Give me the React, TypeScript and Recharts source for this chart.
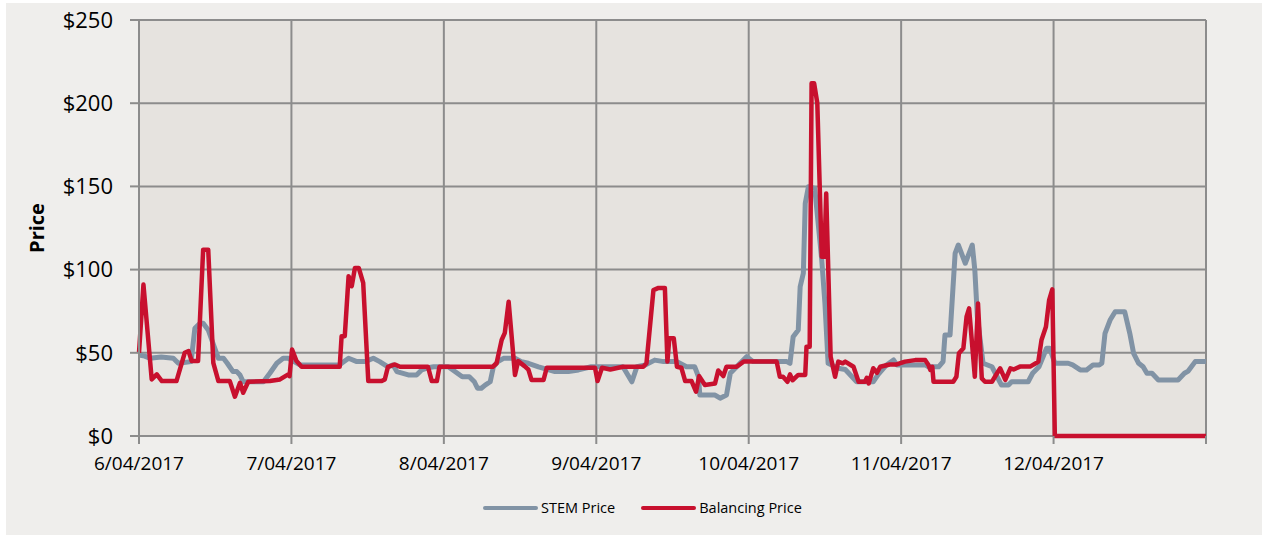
import { LineChart, Line, XAxis, YAxis, CartesianGrid } from 'recharts';

// hours since 00:00 on 6/04/2017
const dayLabels = ['6/04/2017', '7/04/2017', '8/04/2017', '9/04/2017', '10/04/2017', '11/04/2017', '12/04/2017'];
const dayTicks = [0, 24, 48, 72, 96, 120, 144, 168];
const priceTicks = [0, 50, 100, 150, 200, 250];

const stemHours = [
  0, 0.9, 1.7, 3.5, 5.4, 6.2, 8.2, 8.8, 9.6, 10.1, 10.9, 12.5, 13.3, 13.9, 14.8, 15.4, 15.9, 16.4, 19.6, 20.6,
  21.7, 22.7, 23.5, 25.4, 31.6, 31.9, 33, 34.3, 35.6, 36.9, 37.9, 39.2, 40, 40.6, 42.4, 43.7, 44.5, 45.5, 46.4, 48.7,
  50.9, 52, 52.8, 53.3, 53.9, 54.5, 55.3, 55.8, 56.5, 57.4, 59.2, 60.2, 61.3, 62.9, 65.5, 67.6, 69.2, 71.2, 76.2, 77.6,
  78.4, 79.7, 81.2, 82.6, 84.7, 86.2, 87.5, 88.1, 88.3, 90.7, 91.5, 92.5, 93.1, 94.1, 95.7, 96.7, 102, 102.5, 103, 103.8,
  104.1, 104.6, 104.9, 105.4, 106.4, 107.5, 108, 108.5, 110.1, 111.2, 113, 115.6, 116.4, 117.7, 118.8, 119.3, 123.8, 124.3, 125.9, 126.6,
  126.9, 127.7, 128.5, 129, 130.1, 131.2, 131.6, 132, 132.9, 134.3, 135.8, 136.9, 137.4, 140, 140.7, 141.7, 142.9, 143.4, 144.2, 146.3,
  147, 148.2, 149.2, 150.2, 151.2, 151.6, 152.1, 152.9, 153.7, 155.2, 156, 156.6, 157.4, 158.1, 158.7, 159.5, 160.5, 163.6, 164.6, 165.2,
  166.3, 168,
];
const stemPrice = [
  48.7, 48, 46.7, 47.5, 46.7, 43.7, 44.7, 64.7, 67.7, 67.7, 63.7, 46.7, 46.7, 43.7, 38.7, 38.7, 36.7, 32.6, 32.6, 37.7,
  43.7, 46.7, 46.7, 42.7, 42.7, 43.7, 46.7, 44.7, 44.7, 46.7, 44.7, 41.6, 42.7, 38.7, 36.7, 36.7, 39.7, 41, 41.6, 41.6,
  35.6, 35.6, 32.6, 28.7, 28.7, 30.6, 32.6, 41.6, 44.7, 46.7, 46.7, 44.7, 43.7, 41.6, 38.7, 38.7, 39.7, 41.6, 41.6, 32.6,
  41.6, 42.7, 45.6, 44.7, 44.7, 41.6, 41.6, 35.6, 24.6, 24.6, 22.7, 24.6, 37.7, 41.6, 47.7, 44.7, 44.7, 43.7, 59.7, 63.7,
  89.7, 97.8, 139.8, 149.8, 148.8, 105.8, 79.7, 43.7, 40.7, 40, 32.6, 32.6, 37, 42.7, 45.7, 42.7, 42.7, 41.6, 41.6, 44.7,
  60.7, 60.7, 109.8, 114.8, 103.8, 114.8, 99.8, 71.7, 43.7, 41.6, 30.6, 30.6, 32.6, 32.6, 37.7, 41.6, 52.7, 52.7, 43.7, 43.7,
  42.7, 39.7, 39.7, 42.7, 42.7, 43.7, 61.7, 69.7, 74.7, 74.7, 61.7, 49.7, 43.7, 41.6, 37.7, 37.7, 33.7, 33.7, 37.7, 39,
  44.7, 44.7,
];

const balHours = [
  0, 0.7, 2, 2.8, 3.6, 5.9, 7.2, 7.8, 8.3, 9.3, 10.1, 10.9, 11.7, 12.5, 14.3, 15.1, 15.9, 16.4, 17.2, 20.6,
  22.2, 23.5, 23.7, 24.1, 24.8, 25.6, 31.6, 31.9, 32.4, 33, 33.5, 34, 34.6, 35.3, 36.1, 38.2, 38.7, 39.2, 40.3, 41.1,
  45.5, 46.1, 46.9, 47.3, 55.7, 56.3, 57.1, 57.6, 58.2, 59.2, 59.7, 60.7, 61.3, 61.8, 63.7, 64.2, 71.8, 72.2, 72.9, 74.2,
  76.2, 79.4, 79.9, 81, 81.8, 82.8, 83.2, 83.5, 84.2, 84.7, 85.4, 86, 87, 87.7, 88.2, 89.1, 90.7, 91.2, 92, 92.5,
  94.1, 95.2, 100.4, 100.9, 101.4, 102.1, 102.5, 102.9, 103.8, 104.9, 105.1, 105.6, 105.9, 106.3, 106.8, 107.5, 107.9, 108.2, 108.9, 109.6,
  110.1, 110.8, 111.2, 112.5, 113.3, 114.3, 114.6, 114.9, 115.6, 116.2, 116.7, 118.2, 119.3, 120.6, 122.2, 123.8, 124.3, 124.6, 124.9, 125.1,
  128.2, 128.7, 129.1, 129.8, 130.3, 130.7, 131.6, 132.1, 132.7, 133.2, 134.3, 135.1, 135.6, 136.4, 137.2, 137.7, 138.7, 140.3, 141.2, 141.6,
  142.1, 142.8, 143.3, 143.8, 144.2, 168,
];
const balPrice = [
  50, 91, 34, 37, 33, 33, 50, 51, 45, 45, 112, 112, 44, 33, 33, 23.6, 32, 26, 32.6, 33,
  34, 37, 36, 52, 45, 41.6, 41.6, 60, 60, 96, 90, 101, 101, 92, 33, 33, 34, 41.6, 43, 41.6,
  41.6, 33, 33, 41.6, 41.6, 43.7, 57.7, 62, 80.7, 36.7, 45, 42, 40, 33.7, 33.7, 41, 41, 33, 41, 40,
  41.6, 41.6, 43.7, 87.7, 89, 89, 44.7, 58.7, 58.7, 41.6, 41, 33, 33, 26.6, 36, 30.6, 31.5, 39.4, 36, 41.6,
  41.6, 44.7, 44.7, 35.6, 35.6, 32.6, 37, 33.5, 36.7, 36.7, 53.7, 53.7, 212, 212, 200, 107.7, 107.7, 145.8, 47.7, 35.6,
  44.7, 43.7, 44.7, 41.6, 32.6, 32.6, 35, 31.6, 40.7, 38, 41.6, 43, 43, 44.7, 45.6, 45.6, 42.7, 39.7, 41.6, 32.6,
  32.6, 35.6, 49.7, 52.7, 71.7, 76.7, 35.6, 79.7, 34.6, 32.6, 32.6, 37.7, 40.7, 33.7, 40.7, 40, 41.7, 41.7, 43.7, 44.7,
  57.7, 65.7, 81.7, 88.1, 0, 0,
];

const seriesNames = ['STEM Price', 'Balancing Price'];
const seriesColors = ['#8193a5', '#c8102e'];

const stemData = stemHours.map((h, i) => ({ h, price: stemPrice[i] }));
const balData = balHours.map((h, i) => ({ h, price: balPrice[i] }));

const FONT = '"Open Sans", sans-serif';
const GRID = '#8c8c8c';

function PriceLabel() {
  return (
    <text
      x={30}
      y={225}
      transform="rotate(-90 30 225)"
      textAnchor="middle"
      dominantBaseline="central"
      fontFamily={FONT}
      fontWeight="bold"
      fontSize={20}
      fill="#000"
    >
      Price
    </text>
  );
}

export default function App() {
  return (
    <div style={{ position: 'absolute', left: 6, top: 3, width: 1256, height: 532, background: '#efeeec', fontFamily: FONT }}>
      <LineChart width={1256} height={532} margin={{ top: 17, right: 56, left: 0, bottom: 59 }}>
        {/* grid draws the bottom line too, so the zero-valued red segment sits on top of it */}
        <CartesianGrid fill="#e6e3df" stroke={GRID} strokeWidth={2} />
        <XAxis
          dataKey="h"
          type="number"
          domain={[0, 168]}
          ticks={dayTicks}
          allowDuplicatedCategory={false}
          height={40}
          axisLine={false}
          tickSize={8}
          tickMargin={13}
          stroke={GRID}
          strokeWidth={2}
          tick={{ fill: '#000', fontSize: 19, fontFamily: FONT }}
          tickFormatter={(v: number) => dayLabels[v / 24] ?? ''}
          interval={0}
        />
        <YAxis
          type="number"
          domain={[0, 250]}
          ticks={priceTicks}
          width={133}
          tickSize={9}
          tickMargin={17}
          stroke={GRID}
          strokeWidth={2}
          tick={{ fill: '#000', fontSize: 22, fontFamily: FONT }}
          tickFormatter={(v: number) => `$${v}`}
          interval={0}
          label={PriceLabel}
        />
        <Line
          data={stemData}
          dataKey="price"
          name={seriesNames[0]}
          type="linear"
          stroke={seriesColors[0]}
          strokeWidth={5}
          strokeLinejoin="round"
          dot={false}
          isAnimationActive={false}
        />
        <Line
          data={balData}
          dataKey="price"
          name={seriesNames[1]}
          type="linear"
          stroke={seriesColors[1]}
          strokeWidth={4.5}
          strokeLinejoin="round"
          dot={false}
          isAnimationActive={false}
        />
      </LineChart>
      <div style={{ position: 'absolute', left: 477, top: 495, display: 'flex', alignItems: 'center', fontSize: 14.5, color: '#000' }}>
        {seriesNames.map((name, i) => (
          <div key={name} style={{ display: 'flex', alignItems: 'center', marginRight: 26 }}>
            <span style={{ width: 55, height: 4, borderRadius: 2, background: seriesColors[i], marginRight: 3 }} />
            <span>{name}</span>
          </div>
        ))}
      </div>
    </div>
  );
}
